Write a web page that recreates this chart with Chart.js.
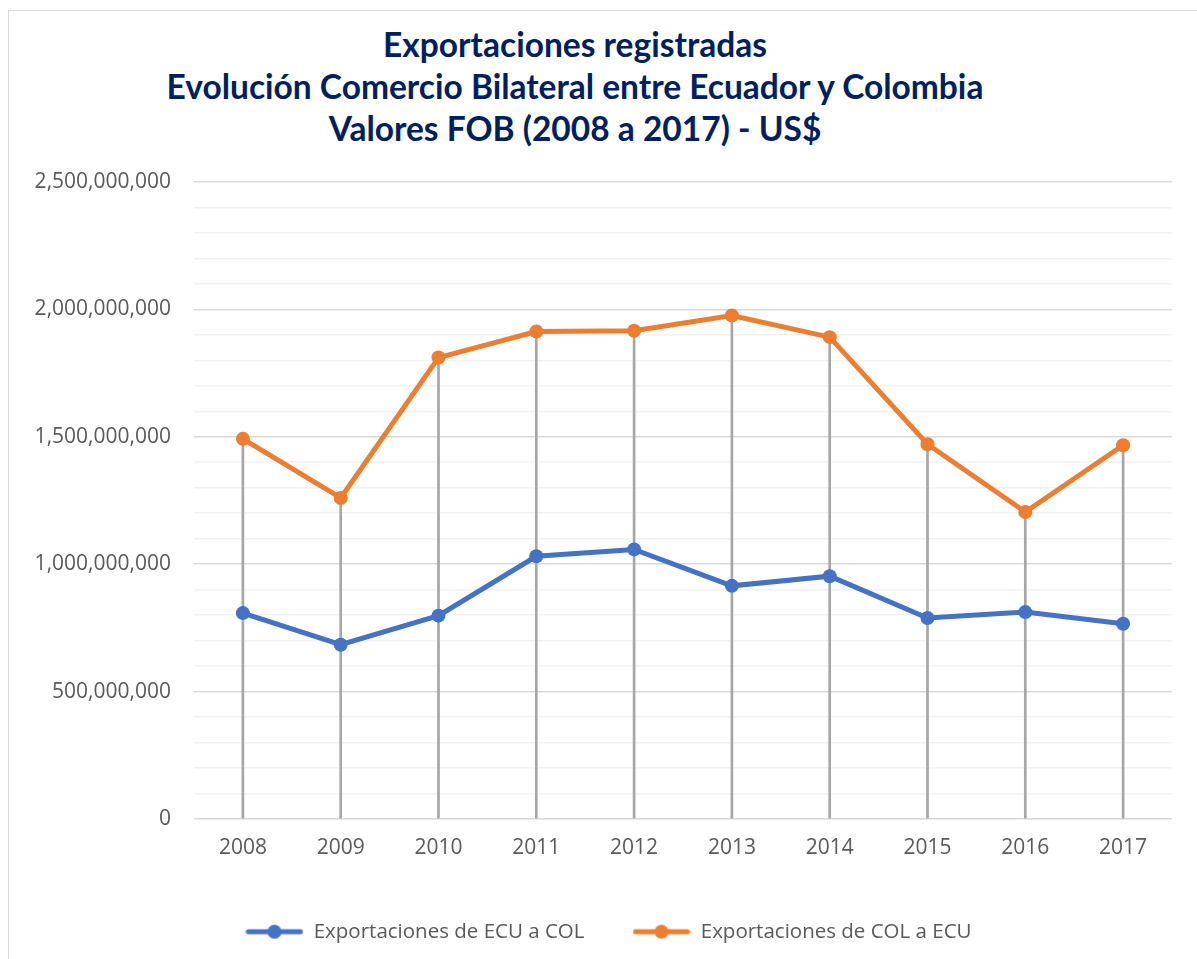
<!DOCTYPE html>
<html>
<head>
<meta charset="utf-8">
<script src="https://cdn.jsdelivr.net/npm/chart.js@4.4.1/dist/chart.umd.min.js"></script>
<style>
  html, body { margin: 0; padding: 0; background: #fff; overflow: hidden; }
  #frame { position: absolute; left: 8px; top: 10px; width: 1300px; height: 1100px; border: 1px solid #d9d9d9; }
  #title { position: absolute; left: 0; width: 1150px; top: 23px; text-align: center;
           font-family: Lato, sans-serif; font-weight: bold; font-size: 33.5px; line-height: 42px; color: #002060; }
  #chart { position: absolute; left: 0; top: 0; }
</style>
</head>
<body>
<div id="frame"></div>
<div id="title">Exportaciones registradas<br>Evolución Comercio Bilateral entre Ecuador y Colombia<br>Valores FOB (2008 a 2017) - US$</div>
<canvas id="chart" width="1197" height="952"></canvas>
<script>
const years = ["2008", "2009", "2010", "2011", "2012", "2013", "2014", "2015", "2016", "2017"];
const ecuToCol = [808000000, 684000000, 798000000, 1031000000, 1058000000, 915000000, 953000000, 789000000, 812000000, 766000000];
const colToEcu = [1492000000, 1260000000, 1811000000, 1913000000, 1916000000, 1976000000, 1891000000, 1471000000, 1205000000, 1467000000];
const seriesNames = ["Exportaciones de ECU a COL", "Exportaciones de COL a ECU"];
const yMax = 2500000000;
const yStep = 100000000;
const labelStep = 500000000;

const blue = "#4472C4";
const orange = "#ED7D31";
const tickFont = { family: "'Open Sans'", size: 21 };

// little line+dot swatch for the legend
function legendSwatch(color) {
    const c = document.createElement("canvas");
    c.width = 58; c.height = 16;
    const g = c.getContext("2d");
    g.strokeStyle = color; g.lineWidth = 5; g.lineCap = "round";
    g.beginPath(); g.moveTo(3, 8); g.lineTo(55, 8); g.stroke();
    g.fillStyle = color;
    g.beginPath(); g.arc(29, 8, 7, 0, Math.PI * 2); g.fill();
    return c;
}
const swatches = [legendSwatch(blue), legendSwatch(orange)];

const ctx = document.getElementById("chart").getContext("2d");
new Chart(ctx, {
    data: {
        labels: years,
        datasets: [
            { type: "line", label: seriesNames[0], data: ecuToCol, borderColor: blue, backgroundColor: blue,
              borderWidth: 5, pointRadius: 7, pointHoverRadius: 7, pointBorderWidth: 0, order: 1 },
            { type: "line", label: seriesNames[1], data: colToEcu, borderColor: orange, backgroundColor: orange,
              borderWidth: 5, pointRadius: 7, pointHoverRadius: 7, pointBorderWidth: 0, order: 2 },
            // drop lines from the upper series down to the axis
            { type: "bar", label: "drop", data: colToEcu, backgroundColor: "#a6a6a6", barThickness: 2, order: 3 }
        ]
    },
    options: {
        responsive: false,
        animation: false,
        layout: { padding: { top: 182, left: 20, right: 0, bottom: 0 } },
        plugins: {
            tooltip: { enabled: false },
            legend: {
                position: "bottom",
                labels: {
                    usePointStyle: true,
                    pointStyleWidth: 58,
                    padding: 48,
                    color: "#595959",
                    font: { family: "'Open Sans'", size: 20.5 },
                    generateLabels(chart) {
                        return Chart.defaults.plugins.legend.labels.generateLabels(chart)
                            .filter(l => l.datasetIndex < 2)
                            .map(l => Object.assign(l, { pointStyle: swatches[l.datasetIndex] }));
                    }
                }
            }
        },
        scales: {
            x: {
                grid: { display: false },
                border: { display: false },
                ticks: { color: "#595959", padding: 8, font: tickFont },
                afterFit(scale) { scale.height = 54.5; }
            },
            y: {
                min: 0, max: yMax,
                border: { display: false },
                grid: {
                    drawTicks: false,
                    lineWidth: 1.6,
                    color: c => (c.tick && c.tick.value % labelStep === 0) ? "#d9d9d9" : "#f2f2f2"
                },
                ticks: {
                    stepSize: yStep,
                    autoSkip: false,
                    padding: 23,
                    color: "#595959",
                    font: tickFont,
                    callback: v => v % labelStep === 0 ? v.toLocaleString("en-US") : ""
                },
                afterFit(scale) { scale.width = 174; }
            },
            // empty right margin so the plot ends where the reference does
            yRight: {
                position: "right",
                grid: { display: false },
                border: { display: false },
                ticks: { display: false },
                afterFit(scale) { scale.width = 25; }
            }
        }
    }
});
</script>
</body>
</html>
